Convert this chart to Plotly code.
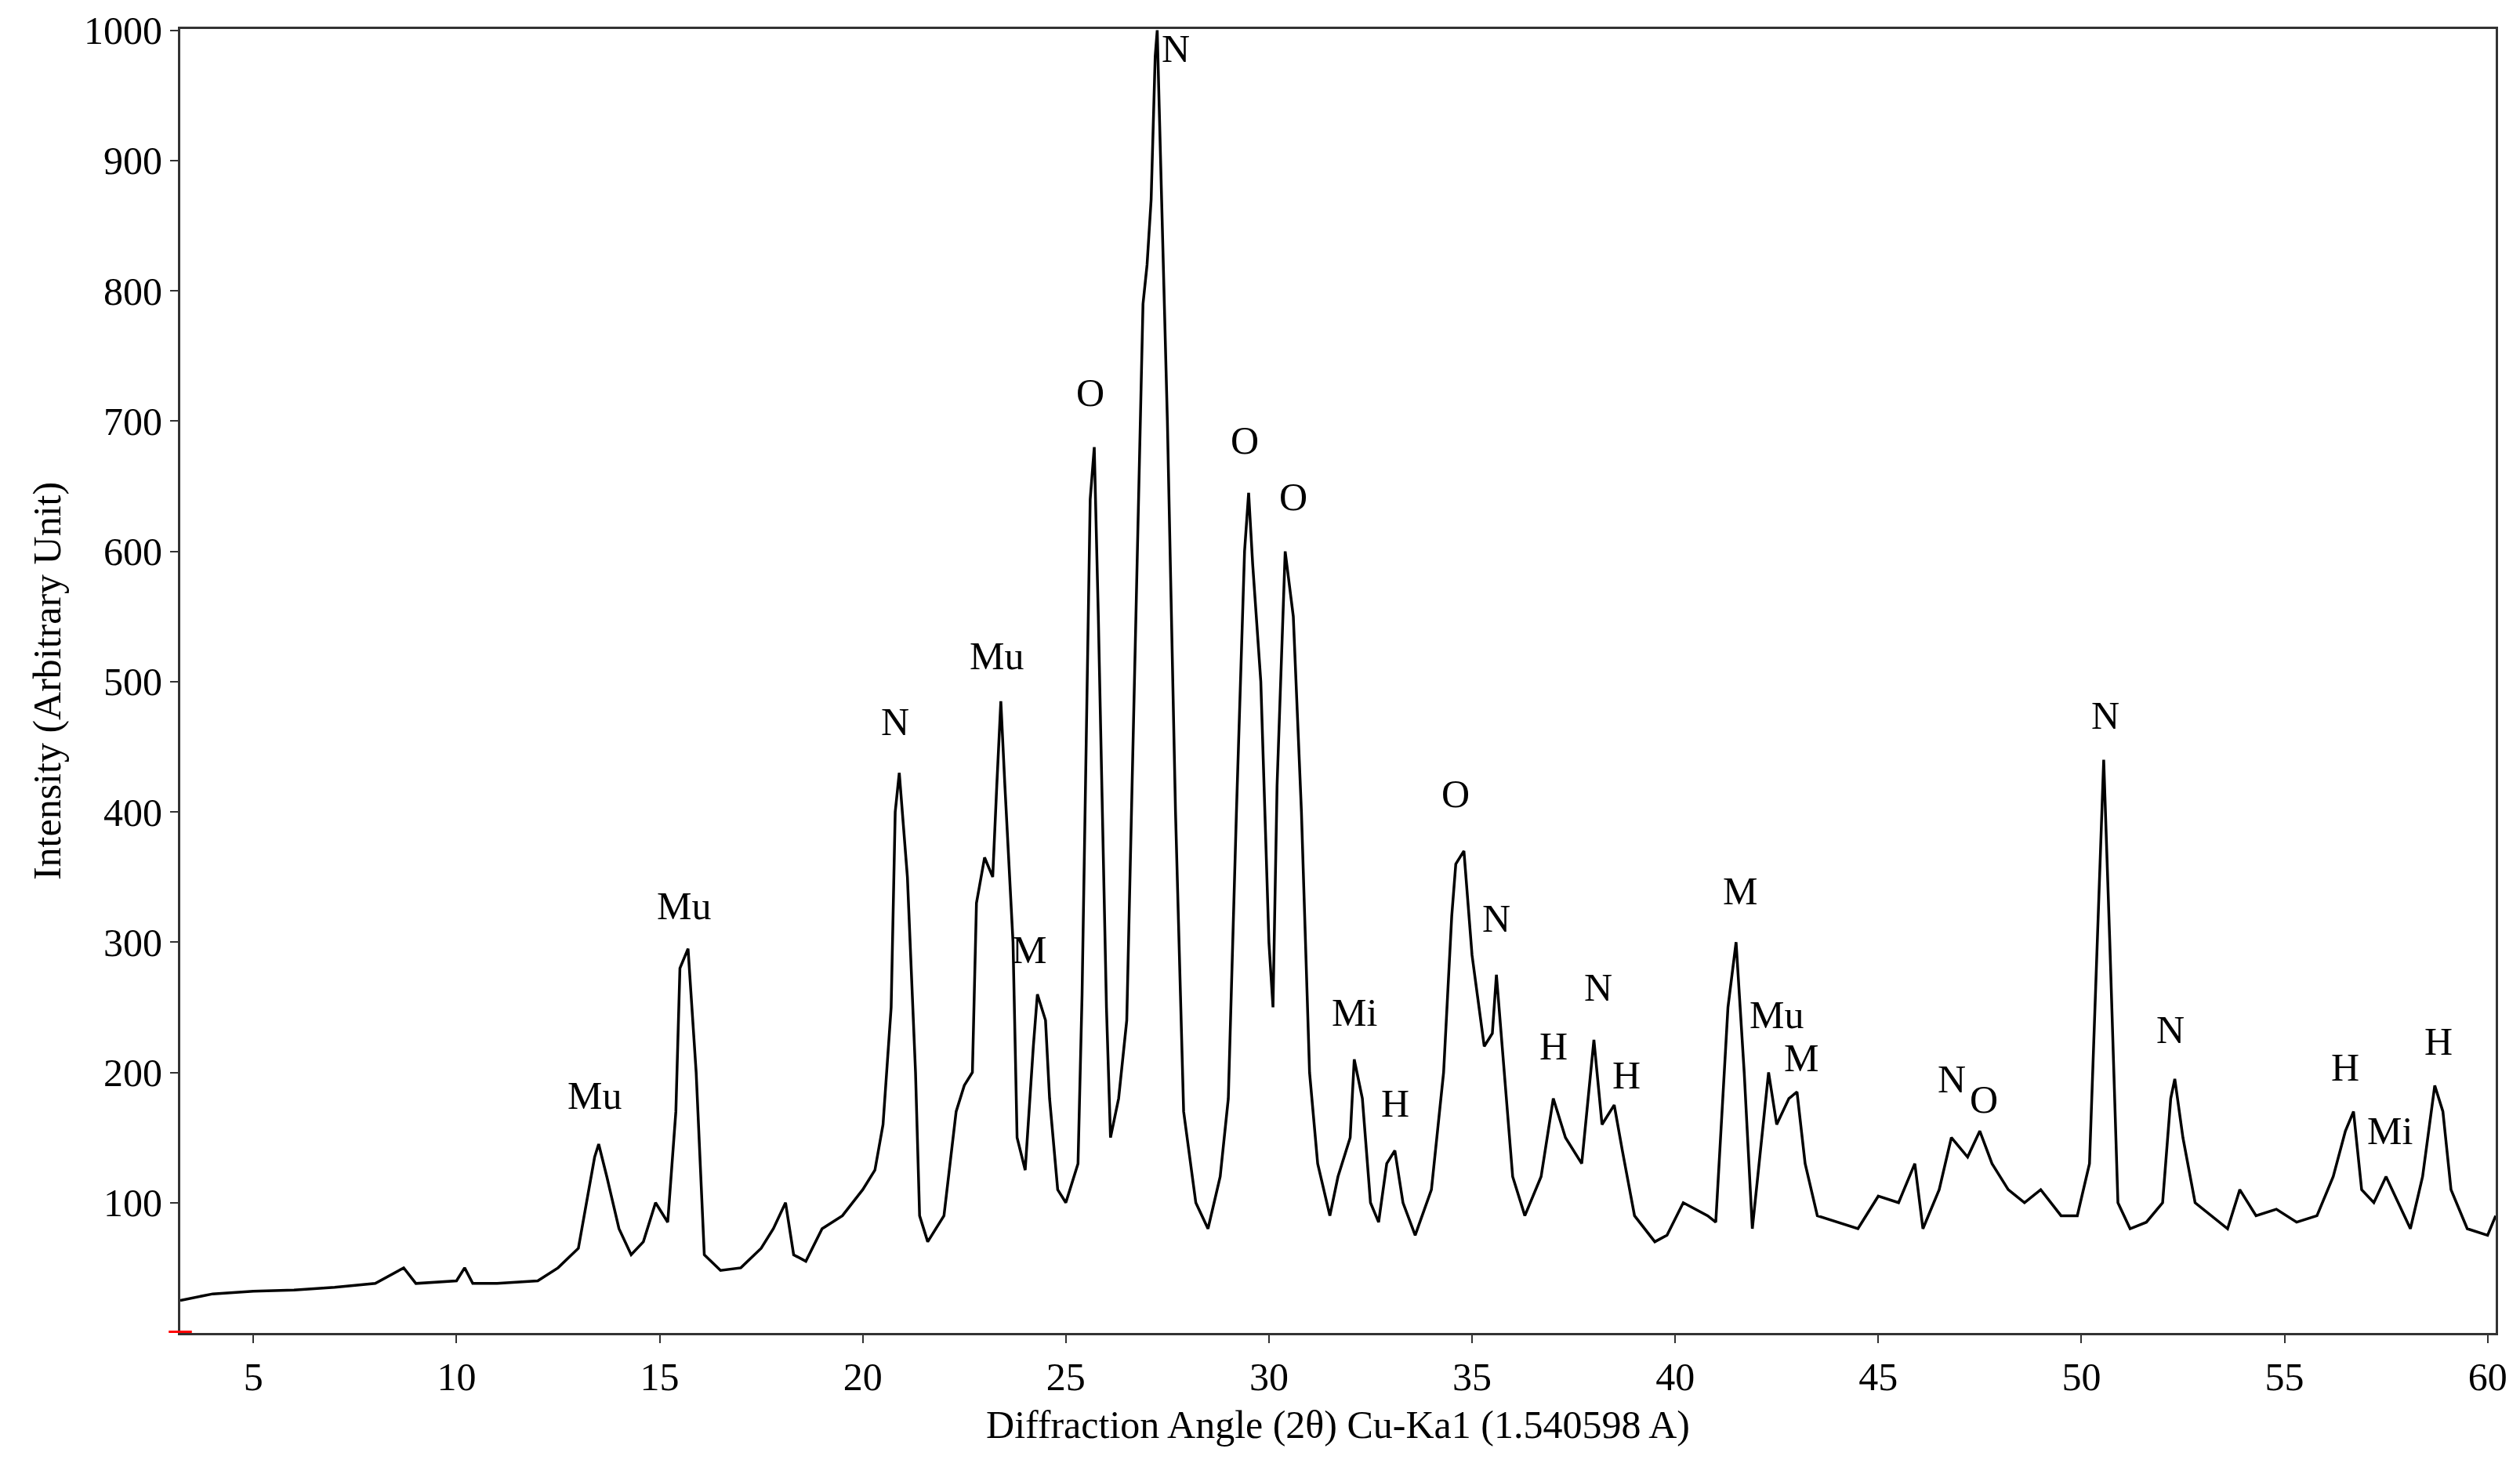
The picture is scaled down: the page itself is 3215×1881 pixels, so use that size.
import plotly.graph_objects as go

# XRD pattern (2theta, intensity)
angle = [3.2, 4, 5, 6, 7, 8, 8.7, 9, 10, 10.2, 10.4, 11, 12, 12.5, 13, 13.2, 13.4, 13.5, 13.7, 14,
         14.3, 14.6, 14.9, 15.2, 15.4, 15.5, 15.7, 15.9, 16.1, 16.5, 17, 17.5, 17.8, 18.1, 18.3, 18.6,
         19, 19.5, 20, 20.3, 20.5, 20.7, 20.8, 20.9, 21.1, 21.3, 21.4, 21.6, 22, 22.3, 22.5, 22.7,
         22.8, 23, 23.2, 23.3, 23.4, 23.5, 23.7, 23.8, 24, 24.2, 24.3, 24.5, 24.6, 24.8, 25, 25.3,
         25.4, 25.6, 25.7, 25.8, 26, 26.1, 26.3, 26.5, 26.7, 26.9, 27.0, 27.1, 27.2, 27.25, 27.3,
         27.5, 27.7, 27.9, 28.2, 28.5, 28.8, 29.0, 29.2, 29.4, 29.5, 29.6, 29.8, 30.0, 30.1, 30.2,
         30.4, 30.6, 30.8, 31.0, 31.2, 31.5, 31.7, 32.0, 32.1, 32.3, 32.5, 32.7, 32.9, 33.1, 33.3,
         33.6, 34.0, 34.3, 34.5, 34.6, 34.8, 35.0, 35.3, 35.5, 35.6, 35.8, 36.0, 36.3, 36.7, 37.0,
         37.3, 37.7, 38.0, 38.2, 38.5, 38.7, 39.0, 39.5, 39.8, 40.2, 40.5, 40.8, 41.0, 41.3, 41.5,
         41.7, 41.9, 42.3, 42.5, 42.8, 43.0, 43.2, 43.5, 44, 44.5, 45, 45.5, 45.9, 46.1, 46.5, 46.8,
         47.2, 47.5, 47.8, 48.2, 48.6, 49, 49.5, 49.9, 50.2, 50.4, 50.55, 50.7, 50.9, 51.2, 51.6,
         52.0, 52.2, 52.3, 52.5, 52.8, 53.2, 53.6, 53.9, 54.3, 54.8, 55.3, 55.8, 56.2, 56.5, 56.7,
         56.9, 57.2, 57.5, 57.8, 58.1, 58.4, 58.7, 58.9, 59.1, 59.5, 60.0, 60.2]
intensity = [25, 30, 32, 33, 35, 38, 50, 38, 40, 50, 38, 38, 40, 50, 65, 100, 135, 145, 120, 80,
             60, 70, 100, 85, 170, 280, 295, 200, 60, 48, 50, 65, 80, 100, 60, 55,
             80, 90, 110, 125, 160, 250, 400, 430, 350, 200, 90, 70, 90, 170, 190, 200,
             330, 365, 350, 420, 485, 420, 300, 150, 125, 220, 260, 240, 180, 110, 100, 130,
             260, 640, 680, 550, 250, 150, 180, 240, 520, 790, 820, 870, 980, 1000, 940,
             700, 400, 170, 100, 80, 120, 180, 400, 600, 645, 590, 500, 300, 250, 420,
             600, 550, 400, 200, 130, 90, 120, 150, 210, 180, 100, 85, 130, 140, 100,
             75, 110, 200, 320, 360, 370, 290, 220, 230, 275, 200, 120, 90, 120, 180,
             150, 130, 225, 160, 175, 140, 90, 70, 75, 100, 95, 90, 85, 250, 300,
             200, 80, 200, 160, 180, 185, 130, 90, 85, 80, 105, 100, 130, 80, 110, 150,
             135, 155, 130, 110, 100, 110, 90, 90, 130, 300, 440, 300, 100, 80, 85,
             100, 180, 195, 150, 100, 90, 80, 110, 90, 95, 85, 90, 120, 155, 170,
             110, 100, 120, 100, 80, 120, 190, 170, 110, 80, 75, 90]

# phase labels
label_text = ["Mu", "Mu", "N", "Mu", "M", "O", "N", "O", "O", "Mi", "H", "O", "N", "H", "N", "H",
              "M", "Mu", "M", "N", "O", "N", "N", "H", "Mi", "H"]
label_x = [13.4, 15.6, 20.8, 23.3, 24.1, 25.6, 27.7, 29.4, 30.6, 32.1, 33.1, 34.6, 35.6, 37.0, 38.1,
           38.8, 41.6, 42.5, 43.1, 46.8, 47.6, 50.6, 52.2, 56.5, 57.6, 58.8]
label_y = [182, 328, 469, 520, 294, 722, 986, 685, 642, 246, 176, 414, 318, 220, 265, 198, 339,
           244, 211, 195, 179, 474, 233, 204, 155, 224]

font_name = "Liberation Serif"

fig = go.Figure(go.Scatter(x=angle, y=intensity, mode="lines", line=dict(color="black", width=3.5),
                           showlegend=False))

for t, x, y in zip(label_text, label_x, label_y):
    fig.add_annotation(x=x, y=y, text=t, showarrow=False, font=dict(family=font_name, size=50, color="black"))

# small red mark at the origin corner
fig.add_shape(type="line", xref="paper", yref="y", x0=-0.005, x1=0.005, y0=0, y1=0,
              line=dict(color="red", width=6))

axis_style = dict(showline=True, linecolor="#333", linewidth=3, mirror=True, ticks="outside",
                  ticklen=10, tickwidth=2, tickcolor="#333", showgrid=False, zeroline=False,
                  tickfont=dict(family=font_name, size=50, color="black"),
                  title_font=dict(family=font_name, size=50, color="black"))

fig.update_layout(
    width=3215, height=1881,
    plot_bgcolor="white", paper_bgcolor="white",
    margin=dict(l=222, r=39, t=29, b=188),
    xaxis=dict(range=[3.2, 60.2], tickvals=list(range(5, 61, 5)),
               title=dict(text="Diffraction Angle (2θ) Cu-Ka1 (1.540598 A)", standoff=16), **axis_style),
    yaxis=dict(range=[0, 1001], tickvals=list(range(100, 1001, 100)), automargin=False,
               title=dict(text="Intensity (Arbitrary Unit)", standoff=14), **axis_style),
)

fig.write_html("out.html")
